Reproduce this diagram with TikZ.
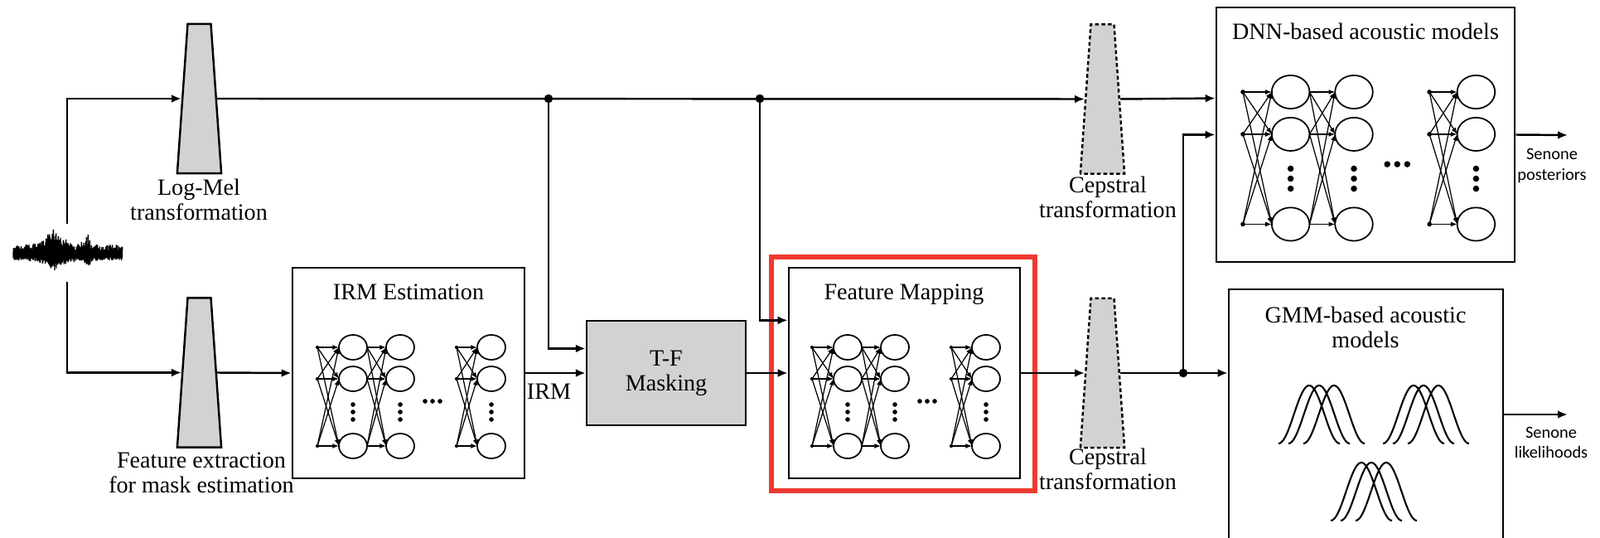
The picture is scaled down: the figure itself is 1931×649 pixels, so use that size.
\documentclass[tikz,border=0pt]{standalone}
\usepackage{fontspec}
\setmainfont{Liberation Serif}
\newfontfamily\senonefont{Carlito}
\usetikzlibrary{positioning,shapes.geometric,arrows.meta,calc}
\definecolor{boxgray}{RGB}{210,210,210}
\definecolor{markred}{RGB}{238,58,48}

\begin{document}
\begin{tikzpicture}[x=0.01cm, y=-0.01cm, font=\fontsize{8}{8.6}\selectfont,
    arr/.style={line width=0.7pt, -{Latex[length=3.4pt,width=2.8pt]}},
    box/.style={draw, line width=0.7pt, inner sep=0pt},
    trap/.style={trapezium, draw, fill=boxgray, line width=0.7pt,
        trapezium left angle=86, trapezium right angle=86,
        text width=0.28cm, inner xsep=0pt, inner ysep=0.9cm},
    cepdash/.style={dash pattern=on 1.3pt off 0.9pt},
    senone/.style={align=center, font=\senonefont\fontsize{5.8}{7}\selectfont},
    edge/.style={line width=0.35pt, -{Latex[length=2.2pt,width=1.7pt]}},
    bell/.style={line width=0.6pt},
    net/.pic={
        \foreach \s/\e in {0/26, 60/83, 168/193}
            \foreach \a in {0,38,119}
                \foreach \b in {0,38,119}
                    \draw[edge] (\s,\a) -- (\e,\b);
        \foreach \s in {0,168}
            \foreach \a in {0,38,119}
                \fill (\s,\a) circle[radius=0.6pt];
        \foreach \x in {43,100,210} {
            \foreach \y in {0,38,119}
                \draw[line width=0.5pt] (\x,\y) circle[x radius=17, y radius=15];
            \foreach \y in {69,78,87}
                \fill (\x,\y) circle[radius=0.8pt];
        }
        \foreach \x in {130,139,148}
            \fill (\x,65) circle[radius=0.8pt];
    },
    bells/.pic={
        \foreach \s in {0,12,30}
            \draw[bell] plot[domain=0:74, samples=40, variable=\t]
                ({\s+\t}, {-35*(1+cos(360*(\t-37)/74))});
    }]
    \useasboundingbox (0,0) rectangle (1931,649);

    %Nodes
    \node[minimum width=1.32cm, minimum height=0.68cm, inner sep=0pt] (wave) at (81,305) {};
    \node[trap] (lm) at (240.5,119) {};
    \node[trap] (fe) at (240.5,449.5) {};
    \node[align=center] (lmlab) at (240,241) {Log-Mel\\transformation};
    \node[align=center] (felab) at (243,570) {Feature extraction\\for mask estimation};

    \node[box, minimum width=2.8cm, minimum height=2.54cm] (irm) at (493,450) {};
    \node (irmtitle) at (493,352) {IRM Estimation};
    \node[box, fill=boxgray, align=center, minimum width=1.92cm, minimum height=1.26cm] (tf) at (804,450) {T-F\\Masking};
    \node[box, minimum width=2.79cm, minimum height=2.54cm] (fm) at (1091.5,450) {};
    \node (fmtitle) at (1091,355) {Feature Mapping};
    \node[draw=markred, line width=1.7pt, minimum width=3.18cm, minimum height=2.82cm] (mark) at (1090,451) {};

    \node[trap, cepdash] (cp1) at (1330.5,119.5) {};
    \node[trap, cepdash] (cp2) at (1330.5,450) {};
    \node[align=center] (cp1lab) at (1337,238) {Cepstral\\transformation};
    \node[align=center] (cp2lab) at (1337,566) {Cepstral\\transformation};

    \node[box, minimum width=3.6cm, minimum height=3.07cm] (dnn) at (1648,162.5) {};
    \node (dnntitle) at (1648,38) {DNN-based acoustic models};
    \node[box, minimum width=3.31cm, minimum height=3.51cm] (gmm) at (1648.5,524.5) {};
    \node[align=center] (gmmtitle) at (1648,395) {GMM-based acoustic\\models};

    \node[senone] (post) at (1873,200) {Senone\\posteriors};
    \node[senone] (like) at (1872,534) {Senone\\likelihoods};

    \coordinate (j1) at (662,119);
    \coordinate (j2) at (917,119);
    \coordinate (j3) at (1428,450);
    \coordinate (out1) at (1892,163);
    \coordinate (out2) at (1892,500);

    %Pictures
    \draw[line width=0.4pt] plot[domain=0:395, samples=396, variable=\i]
        ({16+\i/3}, {307 + (1-2*mod(\i,2))*(1-0.25*(1-2*mod(\i,2)))*(3 + 6*rnd + rnd*(20/(1+((\i/3-50)/11)^2) + 14/(1+((\i/3-90)/3)^2)))});
    \pic at (383,419) {net};
    \pic at (980,419) {net};
    \pic[scale=1.34] at (1500,111) {net};
    \pic at (1543,535) {bells};
    \pic at (1669,535) {bells};
    \pic at (1606,628) {bells};

    %Lines
    \draw[arr] (wave.north) |- (lm.west);
    \draw[arr] (wave.south) |- (fe.west);
    \draw[arr] (fe.east) -- (irm.west);
    \draw[arr] (lm.east) -- (cp1.west);
    \draw[arr] (j1) |- ($(tf.north west)!0.27!(tf.south west)$);
    \draw[arr] (irm.east) -- (tf.west) node [below, pos=0.39] {IRM};
    \draw[arr] (j2) |- ($(fm.north west)!0.252!(fm.south west)$);
    \draw[arr] (tf.east) -- (fm.west);
    \draw[arr] (fm.east) -- (cp2.west);
    \draw[arr] (cp1.east) -- ($(dnn.north west)!0.358!(dnn.south west)$);
    \draw[arr] (cp2.east) -- (cp2.east -| gmm.west);
    \draw[arr] (j3) |- (dnn.west);
    \draw[arr] (dnn.east) -- (out1);
    \draw[arr] (gmm.east |- out2) -- (out2);
    \foreach \j in {j1,j2,j3}
        \fill (\j) circle[radius=1.5pt];

\end{tikzpicture}
\end{document}
